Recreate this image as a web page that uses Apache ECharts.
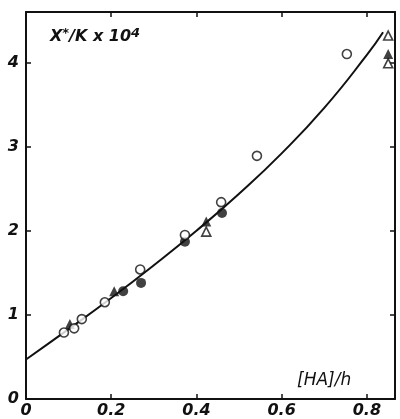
<!DOCTYPE html>
<html>
<head>
<meta charset="utf-8">
<script src="https://cdn.jsdelivr.net/npm/echarts@6/dist/echarts.min.js"></script>
<style>
html,body{margin:0;padding:0;background:#fff;}
#c{width:400px;height:419px;}
</style>
</head>
<body>
<div id="c"></div>
<script>
// Data
const openCircles = [[0.089,0.79],[0.113,0.84],[0.131,0.95],[0.185,1.15],[0.268,1.54],[0.373,1.95],[0.458,2.34],[0.542,2.89],[0.753,4.10]];
const filledCircles = [[0.228,1.28],[0.270,1.38],[0.373,1.87],[0.460,2.21]];
const openTriangles = [[0.423,1.99],[0.850,4.32],[0.850,3.99]];
const filledTriangles = [[0.103,0.89],[0.207,1.28],[0.423,2.11],[0.850,4.10]];
const fitCurveX = [0, 0.1, 0.2, 0.3, 0.4, 0.5, 0.6, 0.7, 0.8, 0.838];
const fitCurveY = [0.47, 0.83, 1.20, 1.59, 2.00, 2.44, 2.92, 3.46, 4.09, 4.36];
const xTickLabels = {0:'0', 0.2:'0.2', 0.4:'0.4', 0.6:'0.6', 0.8:'0.8'};
const yTickLabels = {0:'0', 1:'1', 2:'2', 3:'3', 4:'4'};

const curve = fitCurveX.map((x,i)=>[x, fitCurveY[i]]);
const font = 'DejaVu Sans, Liberation Sans, sans-serif';
const labelStyle = {color:'#111', fontSize:16, fontStyle:'italic', fontWeight:'bold', fontFamily:font};

const chart = echarts.init(document.getElementById('c'), null, {renderer:'canvas'});
const axisLine = {show:true, onZero:false, lineStyle:{color:'#111', width:2}};
const tick = {show:true, inside:true, length:5, lineStyle:{color:'#111', width:1.5}};
chart.setOption({
  animation:false,
  backgroundColor:'#fff',
  grid:{left:26, right:5, top:12, bottom:19, containLabel:false},
  xAxis:[{
    type:'value', min:0, max:0.866, interval:0.2, position:'bottom',
    axisLine:axisLine, axisTick:tick, splitLine:{show:false},
    axisLabel:Object.assign({margin:4, showMaxLabel:false, formatter:v=>{const k=Math.round(v*10)/10; return xTickLabels[k]!==undefined?xTickLabels[k]:'';}}, labelStyle)
  },{
    type:'value', min:0, max:0.866, interval:0.2, position:'top',
    axisLine:axisLine, axisTick:tick, splitLine:{show:false}, axisLabel:{show:false}
  }],
  yAxis:[{
    type:'value', min:0, max:4.6, interval:1, position:'left',
    axisLine:axisLine, axisTick:tick, splitLine:{show:false},
    axisLabel:Object.assign({margin:7, showMaxLabel:false, formatter:v=>yTickLabels[Math.round(v)]||''}, labelStyle)
  },{
    type:'value', min:0, max:4.6, interval:1, position:'right',
    axisLine:axisLine, axisTick:tick, splitLine:{show:false}, axisLabel:{show:false}
  }],
  series:[
    {type:'line', data:curve, smooth:true, showSymbol:false, lineStyle:{color:'#111', width:2}, z:2},
    {type:'scatter', data:openCircles, symbol:'circle', symbolSize:9, itemStyle:{color:'#fff', borderColor:'#111', borderWidth:1.6}, z:4},
    {type:'scatter', data:filledCircles, symbol:'circle', symbolSize:10, itemStyle:{color:'#111'}, z:3},
    {type:'scatter', data:openTriangles, symbol:'triangle', symbolSize:9, itemStyle:{color:'#fff', borderColor:'#111', borderWidth:1.6}, z:3},
    {type:'scatter', data:filledTriangles, symbol:'triangle', symbolSize:10, itemStyle:{color:'#111'}, z:3}
  ],
  graphic:[
    {type:'text', left:50, top:27, style:{
      text:'{a|X}{s|*}{a|/K x 10}{s|4}',
      rich:{
        a:{fontSize:16, fontStyle:'italic', fontFamily:font, fontWeight:'bold', fill:'#111'},
        s:{fontSize:13, fontStyle:'italic', fontWeight:'bold', fontFamily:font, fill:'#111', verticalAlign:'top', padding:[0,0,6,0]}
      }
    }},
    {type:'text', left:297, top:372, style:{text:'[HA]/h', fontSize:17, fontStyle:'italic', fontFamily:font, fill:'#111'}}
  ]
});
</script>
</body>
</html>
